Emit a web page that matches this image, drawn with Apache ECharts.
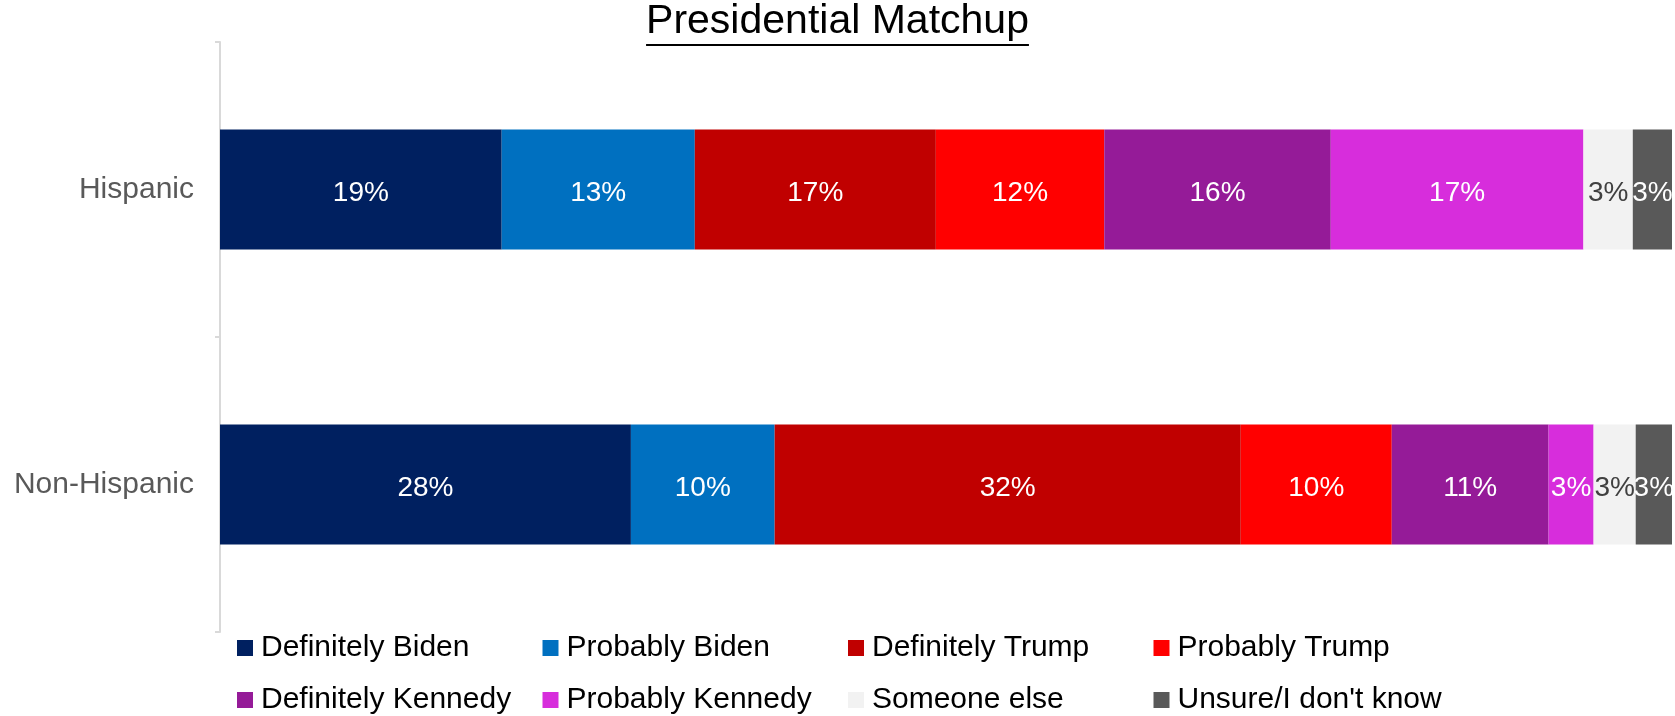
<!DOCTYPE html>
<html>
<head>
<meta charset="utf-8">
<script src="https://cdn.jsdelivr.net/npm/echarts@6/dist/echarts.min.js"></script>
<style>
  html, body { margin: 0; padding: 0; background: #fff; }
  #chart { width: 1675px; height: 716px; }
</style>
</head>
<body>
<div id="chart"></div>
<script>
// groups, top to bottom
const groups = ['Hispanic', 'Non-Hispanic'];
// answer options, in stacking order
const answers = ['Definitely Biden', 'Probably Biden', 'Definitely Trump', 'Probably Trump',
                 'Definitely Kennedy', 'Probably Kennedy', 'Someone else', "Unsure/I don't know"];
const colors = ['#002060', '#0070C0', '#C00000', '#FF0000', '#951B98', '#D72DDC', '#F2F2F2', '#595959'];
// share (%) per answer, [Hispanic, Non-Hispanic]
const definitelyBiden   = [19.4, 28.3];
const probablyBiden     = [13.3, 9.9];
const definitelyTrump   = [16.6, 32.1];
const probablyTrump     = [11.6, 10.4];
const definitelyKennedy = [15.6, 10.8];
const probablyKennedy   = [17.4, 3.1];
const someoneElse       = [3.4, 2.9];
const unsure            = [2.7, 2.5];
const values = [definitelyBiden, probablyBiden, definitelyTrump, probablyTrump,
                definitelyKennedy, probablyKennedy, someoneElse, unsure];

const FONT = 'Liberation Sans, Arial, sans-serif';
const titleText = 'Presidential Matchup';
const titleSize = 41;

// width of the title, for the underline
const ctx = document.createElement('canvas').getContext('2d');
ctx.font = titleSize + 'px ' + FONT;
const titleW = ctx.measureText(titleText).width;

let myChart = echarts.init(document.getElementById('chart'));

let series = answers.map(function (name, i) {
    return {
        name: name,
        type: 'bar',
        stack: 'total',
        barWidth: 120,
        data: values[i],
        itemStyle: { color: colors[i] },
        label: {
            show: true,
            position: 'inside',
            offset: [0, 4],
            formatter: function (p) { return Math.round(p.value) + '%'; },
            color: name === 'Someone else' ? '#404040' : '#ffffff',
            fontFamily: FONT,
            fontSize: 28
        },
        emphasis: { disabled: true }
    };
});

// legend: four columns of two
let legends = [0, 1, 2, 3].map(function (c) {
    return {
        orient: 'vertical',
        left: 237 + c * 305.5,
        top: 633,
        padding: 0,
        itemWidth: 16,
        itemHeight: 16,
        itemGap: 22,
        icon: 'rect',
        selectedMode: false,
        data: [answers[c], answers[c + 4]],
        textStyle: {
            color: '#000',
            fontFamily: FONT,
            fontSize: 30,
            lineHeight: 30,
            padding: [0, 0, 0, 3]
        }
    };
});

let option = {
    animation: false,
    color: colors,
    title: {
        text: titleText,
        left: 'center',
        top: 1,
        padding: 0,
        textStyle: {
            color: '#000',
            fontFamily: FONT,
            fontWeight: 'normal',
            fontSize: titleSize
        }
    },
    graphic: [{
        type: 'rect',
        left: 837.5 - titleW / 2,
        top: 44,
        shape: { width: titleW, height: 2 },
        style: { fill: '#000' },
        silent: true
    }],
    legend: legends,
    grid: {
        left: 220,
        right: 3,
        top: 42,
        bottom: 84
    },
    xAxis: {
        type: 'value',
        min: 0,
        max: 100,
        show: false
    },
    yAxis: {
        type: 'category',
        inverse: true,
        data: groups,
        axisLine: { lineStyle: { color: '#d9d9d9', width: 2 } },
        axisTick: { show: true, length: 5, lineStyle: { color: '#d9d9d9', width: 2 } },
        axisLabel: {
            color: '#595959',
            fontFamily: FONT,
            fontSize: 30,
            margin: 26,
            padding: [7, 0, 0, 0]
        },
        splitLine: { show: false }
    },
    series: series
};
myChart.setOption(option);
</script>
</body>
</html>
